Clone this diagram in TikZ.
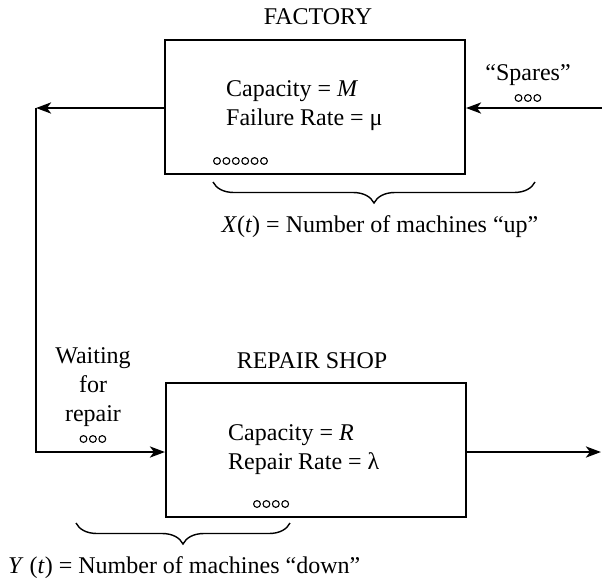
\documentclass[tikz,border=0pt]{standalone}
\usepackage{fontspec}
\setmainfont{Liberation Serif}
\usetikzlibrary{arrows.meta,decorations.pathreplacing}
\begin{document}
\begin{tikzpicture}[x=1pt,y=-1pt,
  every node/.style={font=\fontsize{24}{29}\selectfont},
  boxnode/.style={draw,line width=2pt,minimum width=300pt,minimum height=134pt,inner sep=0pt},
  flow/.style={line width=2.8pt,-{Stealth[length=15pt,width=11pt,inset=4pt]}},
  bracestyle/.style={line width=1.4pt,decorate,decoration={brace,amplitude=21pt}},
  dot/.style={line width=1.1pt}]
\useasboundingbox (0,0) rectangle (602,581);
% boxes
\node[boxnode] (factory) at (315,107) {};
\node[boxnode] (repair) at (316,450) {};
% titles
\node (ftitle) at (318,17) {FACTORY};
\node (rtitle) at (312,361) {REPAIR SHOP};
% box contents
\node[anchor=west,align=left,inner sep=0pt] (ftext) at (226,106) {Capacity = \textit{M}\\Failure Rate = μ};
\node[anchor=west,align=left,inner sep=0pt] (rtext) at (228,450) {Capacity = \textit{R}\\Repair Rate = λ};
\node (spares) at (528,75) {“Spares”};
\node[align=center,inner sep=0pt] (waiting) at (93,387) {Waiting\\for\\repair};
% connectors
\coordinate (sparesin) at (602,108);
\coordinate (tl) at (36,108);
\coordinate (out) at (601,452);
\draw[flow] (sparesin) -- (factory.east |- sparesin);
\draw[flow] (factory.west |- tl) -- (tl);
\draw[flow] (tl) |- (repair.west |- out);
\draw[flow] (repair.east |- out) -- (out);
% small circles
\foreach \i in {0,...,5} \draw[dot] (217+\i*9.4,161) circle (3.4);
\foreach \i in {0,...,2} \draw[dot] (518.5+\i*9.4,98) circle (3.4);
\foreach \i in {0,...,2} \draw[dot] (83.5+\i*9.4,439) circle (3.4);
\foreach \i in {0,...,3} \draw[dot] (257+\i*9.4,504) circle (3.4);
% braces
\coordinate (b1r) at (535,182);
\coordinate (b1l) at (213,182);
\coordinate (b2r) at (290,523);
\coordinate (b2l) at (76,523);
\draw[bracestyle] (b1r) -- (b1l);
\draw[bracestyle] (b2r) -- (b2l);
\node (xlabel) at (380,227) {\textit{X}(\textit{t}) = Number of machines “up”};
\node[anchor=west,inner sep=0pt] (ylabel) at (8,568) {\textit{Y} (\textit{t}) = Number of machines “down”};
\end{tikzpicture}
\end{document}
